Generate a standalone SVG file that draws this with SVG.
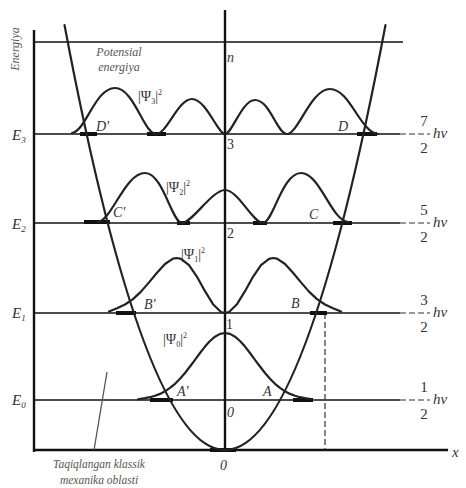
<svg xmlns="http://www.w3.org/2000/svg" width="466" height="488" viewBox="0 0 466 488">
<style>
.ax{stroke:#111;stroke-width:2.4;fill:none}
.lv{stroke:#111;stroke-width:1.6;fill:none}
.ext{stroke:#333;stroke-width:1.2;stroke-dasharray:6 3;fill:none}
.cur{stroke:#222;stroke-width:2.2;fill:none;stroke-linejoin:round;stroke-linecap:round}
.bar{stroke:#111;stroke-width:4;stroke-linecap:butt}
.t{font-family:"Liberation Serif",serif;font-style:italic;fill:#333}
.g{fill:#555}
.n{font-family:"Liberation Serif",serif;fill:#333}
</style>
<rect width="466" height="488" fill="#fff"/>
<g id="axes">
<line class="ax" x1="34" y1="30" x2="34" y2="452"/>
<line class="ax" x1="225" y1="10" x2="225" y2="452"/>
<line class="ax" x1="34" y1="450" x2="448" y2="450" stroke-width="2"/>
<line class="lv" x1="34" y1="42" x2="403" y2="42"/>
</g>
<g id="levels">
<line class="lv" x1="34" y1="134" x2="400" y2="134"/>
<line class="lv" x1="34" y1="223" x2="400" y2="223"/>
<line class="lv" x1="34" y1="313" x2="400" y2="313"/>
<line class="lv" x1="34" y1="400" x2="400" y2="400"/>
<line class="ext" x1="400" y1="134" x2="430" y2="134"/>
<line class="ext" x1="400" y1="223" x2="430" y2="223"/>
<line class="ext" x1="400" y1="313" x2="430" y2="313"/>
<line class="ext" x1="400" y1="400" x2="430" y2="400"/>
<line class="ext" x1="325" y1="313" x2="325" y2="450" stroke-dasharray="5 3"/>
</g>
<g id="bars">
<line class="bar" x1="80" y1="134" x2="97" y2="134"/>
<line class="bar" x1="147" y1="134" x2="166" y2="134"/>
<line class="bar" x1="357" y1="134" x2="377" y2="134"/>
<line class="bar" x1="84" y1="222" x2="110" y2="222"/>
<line class="bar" x1="177" y1="223" x2="190" y2="223"/>
<line class="bar" x1="253" y1="223" x2="267" y2="223"/>
<line class="bar" x1="333" y1="223" x2="352" y2="223"/>
<line class="bar" x1="116" y1="313" x2="136" y2="313"/>
<line class="bar" x1="310" y1="313" x2="327" y2="313"/>
<line class="bar" x1="150" y1="400" x2="173" y2="400"/>
<line class="bar" x1="293" y1="400" x2="313" y2="400"/>
<line class="bar" x1="210" y1="450" x2="236" y2="450"/>
</g>
<g id="potential">
<path class="cur" d="M64.5,25 Q225,875 385.5,25"/>
</g>
<g id="psi3">
<path class="cur" d="M72,133 C86,131 95,88 115,88 C134,88 144,134 156,134 C167,134 178,99 192,99 C206,99 218,134 225,134 C232,134 242,100 255,100 C270,100 277,134 287,134 C298,134 311,89 330,89 C350,89 360,132 378,134"/>
</g>
<g id="psi2">
<path class="cur" d="M98,222 C112,220 125,173 145,173 C163,173 172,223 182,223 C192,223 212,190 225,190 C238,190 253,223 263,223 C273,223 282,173 301,173 C320,173 331,220 348,222"/>
</g>
<g id="psi1">
<polyline class="cur" points="109,311.5 117,308.2 125,304.5 133,299.1 141,291.6 149,282.4 157,272.7 165,264 173,258.7 177,258 181,258.8 189,265.1 197,276.8 205,291.2 213,304.2 221,312 225,313 229,312 237,304.2 245,291.2 253,276.8 261,265.1 269,258.8 273,258 277,258.7 285,264 293,272.7 301,282.4 309,291.6 317,299.1 325,304.5 333,308.2 341,311.5"/>
</g>
<g id="psi0">
<polyline class="cur" points="138,399.3 145,398.2 150,397.2 155,395.8 160,393.9 165,391.3 170,387.9 175,383.8 180,378.7 185,373 190,366.5 195,359.8 200,353 205,346.6 210,341 215,336.7 220,333.9 225,333 230,333.9 235,336.7 240,341 245,346.6 250,353 255,359.8 260,366.5 265,373 270,378.7 275,383.8 280,387.9 285,391.3 290,393.9 295,395.8 300,397.2 305,398.2 312,399.3"/>
</g>
<g id="pointer">
<line x1="94" y1="450" x2="107" y2="372" stroke="#555" stroke-width="1.3"/>
</g>
<g id="labels">
<text class="t g" font-size="12" transform="translate(19,49) rotate(-90)" text-anchor="middle">Energiya</text>
<text class="t g" font-size="12" x="119" y="56" text-anchor="middle">Potensial</text>
<text class="t g" font-size="12" x="119" y="71" text-anchor="middle">energiya</text>
<text class="t" font-size="14" x="227" y="62">n</text>
<text class="t" font-size="15" x="12" y="140">E<tspan font-size="9" dy="3">3</tspan></text>
<text class="t" font-size="15" x="12" y="229">E<tspan font-size="9" dy="3">2</tspan></text>
<text class="t" font-size="15" x="12" y="318">E<tspan font-size="9" dy="3">1</tspan></text>
<text class="t" font-size="15" x="12" y="405">E<tspan font-size="9" dy="3">0</tspan></text>
<text class="n" font-size="14" x="138" y="101">|Ψ<tspan font-size="8" dy="3">3</tspan><tspan dy="-3">|</tspan><tspan font-size="8" dy="-6">2</tspan></text>
<text class="n" font-size="14" x="166" y="192">|Ψ<tspan font-size="8" dy="3">2</tspan><tspan dy="-3">|</tspan><tspan font-size="8" dy="-6">2</tspan></text>
<text class="n" font-size="14" x="181" y="259">|Ψ<tspan font-size="8" dy="3">1</tspan><tspan dy="-3">|</tspan><tspan font-size="8" dy="-6">2</tspan></text>
<text class="n" font-size="14" x="163" y="344">|Ψ<tspan font-size="8" dy="3">0</tspan><tspan dy="-3">|</tspan><tspan font-size="8" dy="-6">2</tspan></text>
<text class="t" font-size="14" x="96" y="131">D'</text>
<text class="t" font-size="14" x="338" y="131">D</text>
<text class="t" font-size="14" x="113" y="217">C'</text>
<text class="t" font-size="14" x="309" y="219">C</text>
<text class="t" font-size="14" x="144" y="309">B'</text>
<text class="t" font-size="14" x="291" y="308">B</text>
<text class="t" font-size="14" x="177" y="396">A'</text>
<text class="t" font-size="14" x="263" y="396">A</text>
<text class="n" font-size="14" x="227" y="149">3</text>
<text class="n" font-size="14" x="227" y="238">2</text>
<text class="n" font-size="14" x="226" y="329">1</text>
<text class="t" font-size="14" x="227" y="417">0</text>
<text class="t" font-size="14" x="220" y="470">0</text>
<text class="t" font-size="15" x="452" y="457">x</text>
<text class="n" font-size="15" x="424" y="126" text-anchor="middle">7</text>
<text class="n" font-size="15" x="424" y="153" text-anchor="middle">2</text>
<text class="t" font-size="15" x="433" y="138">hν</text>
<text class="n" font-size="15" x="424" y="215" text-anchor="middle">5</text>
<text class="n" font-size="15" x="424" y="242" text-anchor="middle">2</text>
<text class="t" font-size="15" x="433" y="227">hν</text>
<text class="n" font-size="15" x="424" y="305" text-anchor="middle">3</text>
<text class="n" font-size="15" x="424" y="332" text-anchor="middle">2</text>
<text class="t" font-size="15" x="433" y="317">hν</text>
<text class="n" font-size="15" x="424" y="392" text-anchor="middle">1</text>
<text class="n" font-size="15" x="424" y="419" text-anchor="middle">2</text>
<text class="t" font-size="15" x="433" y="404">hν</text>
<text class="t g" font-size="11.5" x="99" y="468" text-anchor="middle">Taqiqlangan klassik</text>
<text class="t g" font-size="11.5" x="99" y="484" text-anchor="middle">mexanika oblasti</text>
</g>
</svg>
